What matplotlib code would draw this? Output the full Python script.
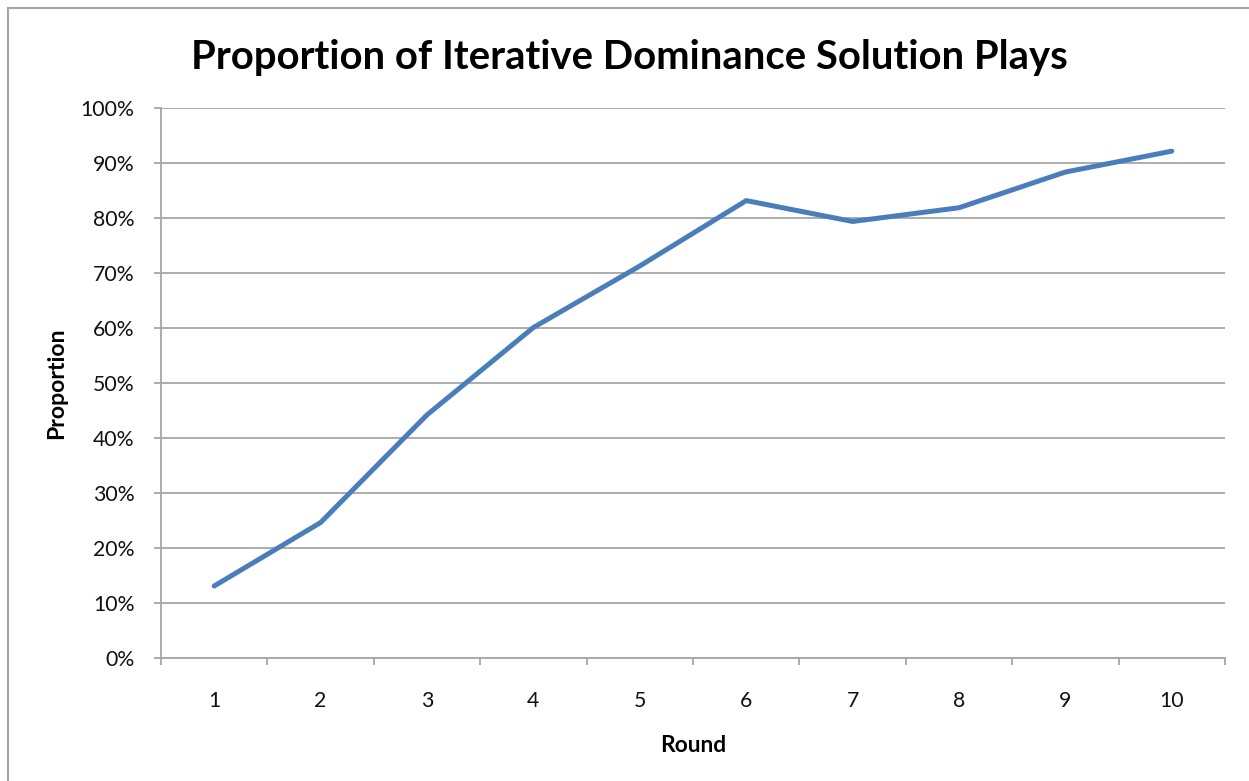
import matplotlib
matplotlib.use("Agg")
import matplotlib.pyplot as plt
import matplotlib.patches as patches
from matplotlib.ticker import FuncFormatter, FixedLocator

# proporcion de jugadas de la solucion por dominancia iterada, por ronda
rondas = [1, 2, 3, 4, 5, 6, 7, 8, 9, 10]
proporcion = [0.1305, 0.246, 0.442, 0.601, 0.713, 0.832, 0.794, 0.819, 0.884, 0.922]
ticks_y = [0.0, 0.1, 0.2, 0.3, 0.4, 0.5, 0.6, 0.7, 0.8, 0.9, 1.0]

plt.rcParams['font.family'] = ['Lato', 'DejaVu Sans']

gris = '#a6a6a6'
azul = '#4a7ebb'

fig = plt.figure(figsize=(12.49, 7.81), dpi=100)
axes = fig.add_axes([161/1249, 1 - 657.7/781, (1225 - 161)/1249, (657.7 - 108.3)/781])

# marco exterior del grafico
marco = patches.Rectangle((8/1249, -0.05), 1.2, 1 - 8/781 + 0.05, transform=fig.transFigure,
                          fill=False, edgecolor=gris, linewidth=1.5)
fig.patches.append(marco)

axes.plot(rondas, proporcion, color=azul, linewidth=3.6, solid_capstyle='round',
          solid_joinstyle='round', zorder=3)

axes.set_xlim(0.5, 10.5)
axes.set_ylim(0, 1)

axes.set_yticks(ticks_y)
axes.yaxis.set_major_formatter(FuncFormatter(lambda v, p: f"{v*100:.0f}%"))
axes.grid(axis='y', color=gris, linewidth=1.3)
axes.set_axisbelow(True)

axes.set_xticks(rondas)
axes.set_xticklabels([str(r) for r in rondas])
axes.xaxis.set_minor_locator(FixedLocator([r + 0.5 for r in [0] + rondas]))
axes.tick_params(axis='x', which='major', length=0, pad=24, labelsize=15.3, colors='#111111')
axes.tick_params(axis='x', which='minor', length=5, width=1.3, color=gris, direction='out')
axes.tick_params(axis='y', length=5, width=1.3, color=gris, pad=14, labelsize=15.3,
                 labelcolor='#111111')

for lado in ['top', 'right']:
    axes.spines[lado].set_visible(False)
for lado in ['left', 'bottom']:
    axes.spines[lado].set_color(gris)
    axes.spines[lado].set_linewidth(1.3)

axes.set_xlabel('Round', fontsize=16.4, fontweight='bold', labelpad=17)
axes.set_ylabel('Proportion', fontsize=16.6, fontweight='bold', labelpad=10)
fig.text(629/1249, 1 - 58/781, 'Proportion of Iterative Dominance Solution Plays',
         fontsize=28.8, fontweight='bold', ha='center', va='center')

fig.savefig('out.png', dpi=100, facecolor='white')
